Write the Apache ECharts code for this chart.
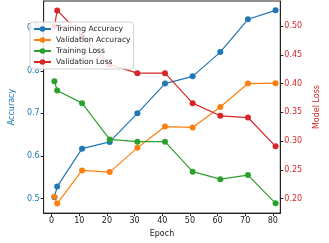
<!DOCTYPE html>
<html>
<head>
<meta charset="utf-8">
<script src="https://cdn.jsdelivr.net/npm/echarts@6/dist/echarts.min.js"></script>
<style>
  html, body { margin: 0; padding: 0; background: #fff; }
  #chart { width: 329px; height: 243px; }
</style>
</head>
<body>
<div id="chart"></div>
<script>
// data
const epochs = [1, 2, 11, 21, 31, 41, 51, 61, 71, 81]
const trainAcc = [0.503, 0.528, 0.617, 0.633, 0.700, 0.770, 0.787, 0.844, 0.921, 0.942]
const valAcc = [0.504, 0.488, 0.566, 0.562, 0.619, 0.669, 0.667, 0.715, 0.770, 0.771]
const trainLoss = [0.404, 0.388, 0.366, 0.303, 0.299, 0.299, 0.247, 0.234, 0.241, 0.192]
const valLoss = [0.499, 0.527, 0.483, 0.433, 0.418, 0.418, 0.366, 0.344, 0.341, 0.291]
const xTicks = [0, 10, 20, 30, 40, 50, 60, 70, 80]
const accTicks = [0.5, 0.6, 0.7, 0.8, 0.9]
const lossTicks = [0.2, 0.25, 0.3, 0.35, 0.4, 0.45, 0.5]

const BLUE = '#1f77b4', ORANGE = '#ff7f0e', GREEN = '#2ca02c', RED = '#d62728'
const FONT = 'DejaVu Sans'

function pairs(ys) {
  return epochs.map((e, i) => [e, ys[i]])
}

function lineSeries(name, ys, color, yIndex) {
  return {
    name: name,
    type: 'line',
    yAxisIndex: yIndex,
    data: pairs(ys),
    symbol: 'circle',
    symbolSize: 6,
    showSymbol: true,
    lineStyle: { color: color, width: 1.2 },
    itemStyle: { color: color },
    emphasis: { disabled: true },
    animation: false
  }
}

let chart = echarts.init(document.getElementById('chart'), null, { renderer: 'canvas' })

let option = {
  animation: false,
  textStyle: { fontFamily: FONT },
  grid: {
    left: 28, right: 35, top: 1, bottom: 24,
    show: true, borderColor: '#222', borderWidth: 1, backgroundColor: 'transparent'
  },
  legend: {
    orient: 'vertical',
    left: 30, top: 22,
    itemWidth: 17, itemHeight: 7,
    itemGap: 3,
    padding: [3, 3, 3, 3],
    backgroundColor: 'rgba(255,255,255,0.85)',
    borderColor: '#d0d0d0', borderWidth: 1, borderRadius: 3,
    textStyle: { fontFamily: FONT, fontSize: 7.6, color: '#222' },
    data: ['Training Accuracy', 'Validation Accuracy', 'Training Loss', 'Validation Loss'],
    z: 20
  },
  xAxis: {
    type: 'value',
    min: -2.9, max: 82.7,
    name: 'Epoch', nameLocation: 'middle', nameGap: 15,
    nameTextStyle: { fontFamily: FONT, fontSize: 8, color: '#222' },
    axisLine: { show: true, onZero: false, lineStyle: { color: '#222' } },
    axisTick: { show: true, length: 3, customValues: xTicks, lineStyle: { color: '#222' } },
    axisLabel: { customValues: xTicks, fontSize: 8, color: '#222', margin: 4 },
    splitLine: { show: false }
  },
  yAxis: [
    {
      type: 'value',
      min: 0.4657, max: 0.964,
      name: 'Accuracy', nameLocation: 'middle', nameGap: 21,
      nameTextStyle: { fontFamily: FONT, fontSize: 8, color: BLUE },
      axisLine: { show: true, onZero: false, lineStyle: { color: '#222' } },
      axisTick: { show: true, length: 3, customValues: accTicks, lineStyle: { color: '#222' } },
      axisLabel: {
        customValues: accTicks, fontSize: 8, color: BLUE, margin: 4,
        formatter: v => v.toFixed(1)
      },
      splitLine: { show: false }
    },
    {
      type: 'value',
      min: 0.175, max: 0.5434,
      position: 'right',
      name: 'Model Loss', nameLocation: 'middle', nameGap: 29,
      nameRotate: 90,
      nameTextStyle: { fontFamily: FONT, fontSize: 8, color: RED },
      axisLine: { show: true, onZero: false, lineStyle: { color: '#222' } },
      axisTick: { show: true, length: 3, customValues: lossTicks, lineStyle: { color: '#222' } },
      axisLabel: {
        customValues: lossTicks, fontSize: 8, color: RED, margin: 4,
        formatter: v => v.toFixed(2)
      },
      splitLine: { show: false }
    }
  ],
  series: [
    lineSeries('Training Accuracy', trainAcc, BLUE, 0),
    lineSeries('Validation Accuracy', valAcc, ORANGE, 0),
    lineSeries('Training Loss', trainLoss, GREEN, 1),
    lineSeries('Validation Loss', valLoss, RED, 1)
  ]
}

chart.setOption(option)
</script>
</body>
</html>
